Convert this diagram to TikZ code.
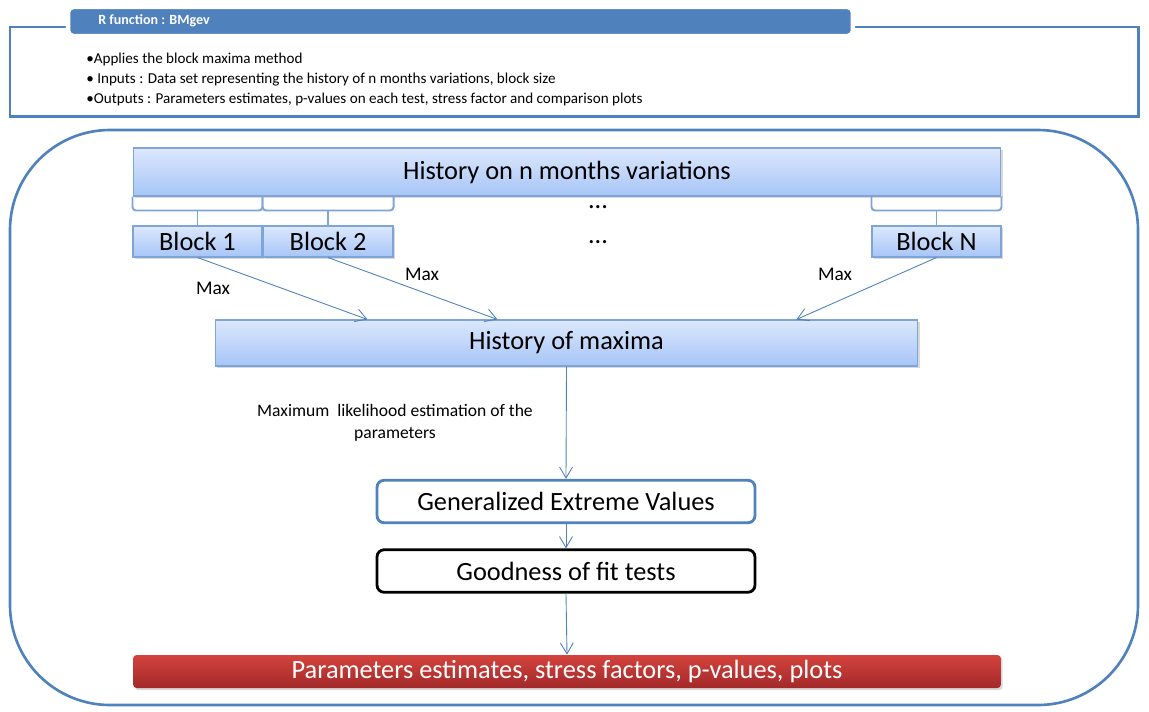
\documentclass[tikz,border=0pt]{standalone}
\usepackage{fontspec}
\setmainfont{Carlito}
\usepackage{tikz}
\usetikzlibrary{positioning,arrows.meta,shadows}

\definecolor{frameblue}{HTML}{4F81BD}
\definecolor{boxtop}{HTML}{DCE8FC}
\definecolor{boxbot}{HTML}{A6C5F7}
\definecolor{boxedge}{HTML}{7EA4D8}
\definecolor{redtop}{HTML}{D4433C}
\definecolor{redbot}{HTML}{A2292A}

\begin{document}
\begin{tikzpicture}[x=0.02cm, y=-0.02cm,
bluebox/.style={rectangle, draw=boxedge, line width=0.6pt, top color=boxtop, bottom color=boxbot, inner sep=0pt, font=\fontsize{15}{17}\selectfont, drop shadow={shadow xshift=1pt, shadow yshift=-1.2pt, opacity=0.3}},
stepbox/.style={rectangle, rounded corners=4pt, fill=white, line width=1.6pt, inner sep=0pt, minimum width=7.56cm, minimum height=0.85cm, font=\fontsize{15}{17}\selectfont},
bracket/.style={draw=boxedge, line width=1.1pt, rounded corners=2pt},
flow/.style={draw=frameblue, line width=0.5pt, -{Straight Barb[length=2.2mm, width=2.6mm]}},
smalltext/.style={font=\fontsize{11}{13}\selectfont, inner sep=0pt},
]
\useasboundingbox (0,0) rectangle (1149,711);

%Header panel
\draw[frameblue, line width=1.7pt] (10,27) rectangle (1138,116);
\node[rectangle, rounded corners=3pt, fill=frameblue, draw=white, line width=2.5pt, minimum width=15.7cm, minimum height=0.58cm, inner sep=0pt] (title) at (460.5,21.5) {};
\node[anchor=west, text=white, font=\fontsize{8}{10}\selectfont\bfseries, inner sep=0pt] (titletext) at (98,21) {R function : BMgev};
\node[anchor=north west, align=left, inner sep=0pt, font=\fontsize{8.6}{11.2}\selectfont] (bullets) at (86,53) {%
•Applies the block maxima method\\
• Inputs : Data set representing the history of n months variations, block size\\
•Outputs : Parameters estimates, p-values on each test, stress factor and comparison plots};

%Main frame
\draw[frameblue, line width=1.5pt, rounded corners=2cm] (10,130) rectangle (1138,705);

%Nodes
\node[bluebox, minimum width=17.36cm, minimum height=0.96cm] (hist)   at (567,172)     {History on n months variations};
\node[bluebox, minimum width=2.58cm, minimum height=0.62cm]  (b1)     at (197.5,241.5) {Block 1};
\node[bluebox, minimum width=2.6cm, minimum height=0.62cm]   (b2)     [right=0pt of b1] {Block 2};
\node[bluebox, minimum width=2.58cm, minimum height=0.62cm]  (bN)     at (936.5,241.5) {Block N};
\node[font=\fontsize{15}{17}\selectfont, inner sep=0pt]      (dots1)  at (598,207)     {...};
\node[font=\fontsize{15}{17}\selectfont, inner sep=0pt]      (dots2)  at (598,242)     {...};
\node[bluebox, minimum width=14.06cm, minimum height=0.92cm] (maxima) at (566.5,343)   {History of maxima};
\node[stepbox, draw=frameblue]                                (gev)    at (566,501.5)   {Generalized Extreme Values};
\node[stepbox, draw=black]                                    (good)   at (566,571)     {Goodness of fit tests};
\node[rectangle, rounded corners=2pt, inner sep=0pt, minimum width=17.36cm, minimum height=0.66cm, top color=redtop, bottom color=redbot, text=white, font=\fontsize{15}{17}\selectfont, drop shadow={shadow xshift=1pt, shadow yshift=-1.2pt, opacity=0.3}] (result) at (567,671.5) {Parameters estimates, stress factors, p-values, plots};

%Labels
\node[smalltext] (max1) at (213,288) {Max};
\node[smalltext] (max2) at (422,274) {Max};
\node[smalltext] (maxN) at (835,274) {Max};
\node[smalltext, align=center, font=\fontsize{10}{12.5}\selectfont] (mle) at (395,423) {Maximum\ \ likelihood estimation of the\\parameters};

%Brackets
\foreach \b in {b1,b2,bN}{
  \draw[bracket] (\b.west |- hist.south) -- ++(0,14) -| (\b.east |- hist.south);
  \draw[bracket] (\b.north) -- ++(0,-15);
}

%Lines
\draw[flow] (b1.south) -- ([xshift=3.06cm]maxima.north west);
\draw[flow] (b2.south) -- ([xshift=5.66cm]maxima.north west);
\draw[flow] (bN.south) -- ([xshift=11.64cm]maxima.north west);
\draw[flow] (maxima.south) -- (gev.north);
\draw[flow] (gev.south) -- (good.north);
\draw[flow] (good.south) -- (result.north);
\end{tikzpicture}
\end{document}
